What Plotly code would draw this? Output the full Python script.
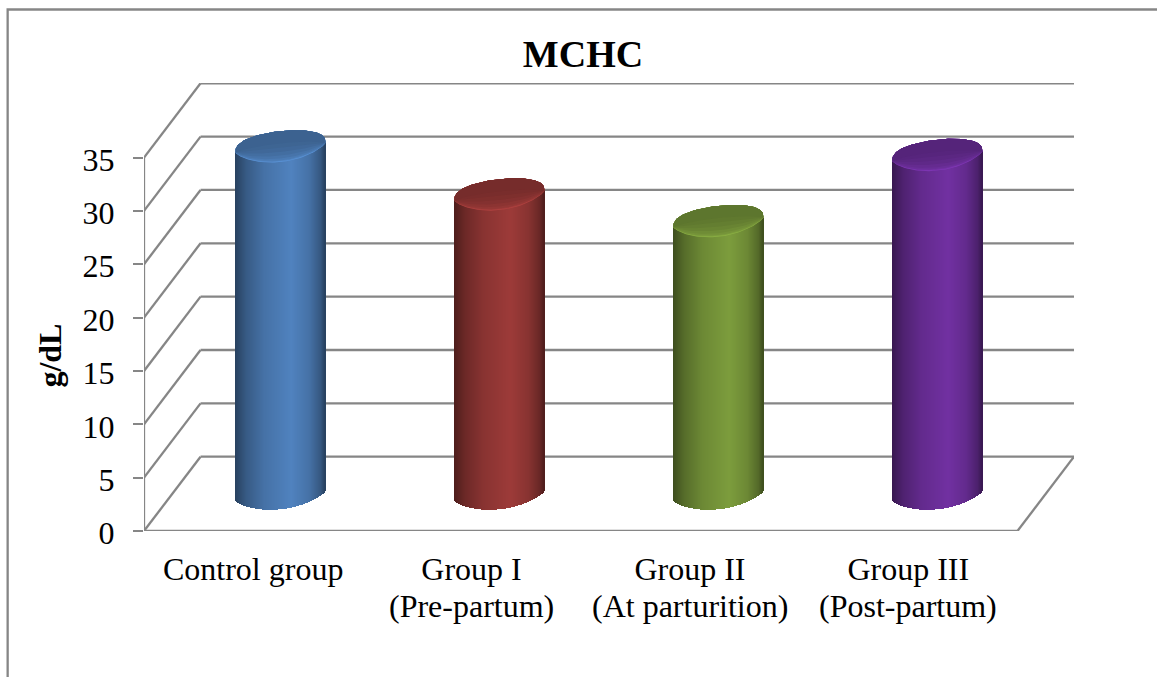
import numpy as np
import plotly.graph_objects as go

# ---- data ----
categories = ["Control group", "Group I", "Group II", "Group III"]
sublabels = ["", "(Pre-partum)", "(At parturition)", "(Post-partum)"]
values = [32.6, 28.1, 25.6, 31.8]
colors = ["#4F81BD", "#9B3A38", "#7B9B3C", "#7030A0"]
y_ticks = [0, 5, 10, 15, 20, 25, 30, 35]
title_text = "MCHC"
y_label = "g/dL"

# ---- layout constants (pixels) ----
W, H = 1157, 677
L, R, T, B = 143.5, 1074.5, 83.0, 531.0
PX_Y = 10.67           # pixels per value unit
PX_X = 218.25          # pixels per category
DEPTH_X = 56.5 / PX_X  # wall depth in category units
DEPTH_Y = 74.3 / PX_Y  # wall depth in value units
GRID = "#868686"
FONT = "Liberation Serif"


def shade(hex_c, f):
    rgb = [int(hex_c[i:i + 2], 16) for i in (1, 3, 5)]
    return "rgb(%d,%d,%d)" % tuple(min(255, max(0, round(c * f))) for c in rgb)


fig = go.Figure()

# cylinder parameters
radius = 45.0 / PX_X
ry_up = 16.5 / PX_Y
ry_low = 14.5 / PX_Y
ry_bottom = 13.8 / PX_Y
tilt = 4.8 / PX_Y
x_shift = DEPTH_X / 2 - 0.0045
x_spread = 0.0027
y_shift = DEPTH_Y / 2 - 0.15

# body as thin gradient bars
N = 90
u = (np.arange(N) + 0.5) / N * 2 - 1
stops_t = [-1.0, -0.75, -0.35, 0.25, 0.65, 0.9, 1.0]
stops_f = [0.50, 0.70, 0.88, 1.01, 0.88, 0.68, 0.50]
for i, (v, c) in enumerate(zip(values, colors)):
    xs = i + x_spread * i + x_shift + radius * u
    base = y_shift + tilt * u - ry_bottom * (1 - u ** 2) ** 0.75
    top = y_shift + v + tilt * u
    fac = np.interp(u, stops_t, stops_f)
    fig.add_trace(go.Bar(
        x=xs, y=top - base, base=base,
        width=2 * radius / N * 1.3,
        marker=dict(color=[shade(c, f) for f in fac], line=dict(width=0)),
        showlegend=False, hoverinfo="skip",
    ))

# top cap as nested shaded outlines, sharing their upper edge
cu = np.cos(np.linspace(0, np.pi, 60))
cap_s = [1.0, 0.95, 0.88, 0.75, 0.55, 0.30, 0.0, -0.30]
cap_f = [1.14, 1.02, 0.95, 0.90, 0.85, 0.81, 0.78, 0.76]
upper = ry_up * (1 - cu ** 2) ** 0.38
lower = ry_low * (1 - cu ** 2) ** 0.75
for i, (v, c) in enumerate(zip(values, colors)):
    xc = i + x_spread * i + x_shift
    yc = y_shift + v
    for s, f in zip(cap_s, cap_f):
        fig.add_trace(go.Scatter(
            x=np.concatenate([xc + radius * cu, xc + radius * cu[::-1]]),
            y=np.concatenate([yc + tilt * cu + upper, yc + tilt * cu[::-1] - s * lower[::-1]]),
            mode="lines", fill="toself", fillcolor=shade(c, f),
            line=dict(width=0), showlegend=False, hoverinfo="skip",
        ))

# walls and floor, below the traces
x0, x1 = -0.5, 3.5
line = dict(color=GRID, width=2.3)
for v in y_ticks:
    fig.add_shape(type="line", layer="below", xref="x", yref="y", line=line,
                  x0=x0, y0=v, x1=x0 + DEPTH_X, y1=v + DEPTH_Y)
    fig.add_shape(type="line", layer="below", xref="x", yref="y", line=line,
                  x0=x0 + DEPTH_X, y0=v + DEPTH_Y, x1=x1 + DEPTH_X, y1=v + DEPTH_Y)
fig.add_shape(type="line", layer="below", xref="x", yref="y", line=line,
              x0=x0, y0=0, x1=x0, y1=y_ticks[-1])
fig.add_shape(type="line", layer="below", xref="x", yref="y", line=line,
              x0=x0, y0=0, x1=x1, y1=0)
fig.add_shape(type="line", layer="below", xref="x", yref="y", line=line,
              x0=x1, y0=0, x1=x1 + DEPTH_X, y1=DEPTH_Y)


def px(xp):
    return (xp - L) / (R - L)


def py(yp):
    return 1 - (yp - T) / (B - T)


# outer chart border, running off the right and bottom edges
fig.add_shape(type="path", xref="paper", yref="paper", layer="below",
              path="M %f,%f L %f,%f L %f,%f" % (px(7), py(H + 5), px(7), py(9.5), px(W + 5), py(9.5)),
              line=line)

# second row of category labels
for i, s in enumerate(sublabels):
    if s:
        fig.add_annotation(x=i, xref="x", y=py(606), yref="paper", text=s, showarrow=False,
                           xanchor="center", yanchor="middle",
                           font=dict(family=FONT, size=32, color="black"))

fig.add_annotation(x=px(49), xref="paper", y=py(356), yref="paper", text="<b>%s</b>" % y_label,
                   textangle=-90, showarrow=False, xanchor="center", yanchor="middle",
                   font=dict(family=FONT, size=32, color="black"))

fig.update_layout(
    width=W, height=H,
    margin=dict(l=L, r=W - R, t=T, b=H - B, pad=0),
    paper_bgcolor="white", plot_bgcolor="white",
    barmode="overlay", bargap=0, showlegend=False,
    font=dict(family=FONT, size=32, color="black"),
    title=dict(text="<b>%s</b>" % title_text, x=583 / W, y=1 - 54 / H,
               xanchor="center", yanchor="middle", font=dict(family=FONT, size=38, color="black")),
    xaxis=dict(range=[x0, x1 + DEPTH_X], tickvals=list(range(len(categories))), ticktext=categories,
               showgrid=False, zeroline=False, showline=False, ticks="", automargin=False,
               ticklabelstandoff=16,
               tickfont=dict(family=FONT, size=32, color="black"), fixedrange=True),
    yaxis=dict(range=[0, (B - T) / PX_Y], tickvals=y_ticks, showgrid=False, zeroline=False,
               showline=False, ticks="outside", ticklen=10, tickwidth=2.3, tickcolor=GRID,
               ticklabelstandoff=12, ticklabelshift=2,
               automargin=False, tickfont=dict(family=FONT, size=32, color="black"), fixedrange=True),
)

fig.write_html("out.html", post_script="document.body.style.margin='0';document.documentElement.style.overflow='hidden';",
               config={"displayModeBar": False})
